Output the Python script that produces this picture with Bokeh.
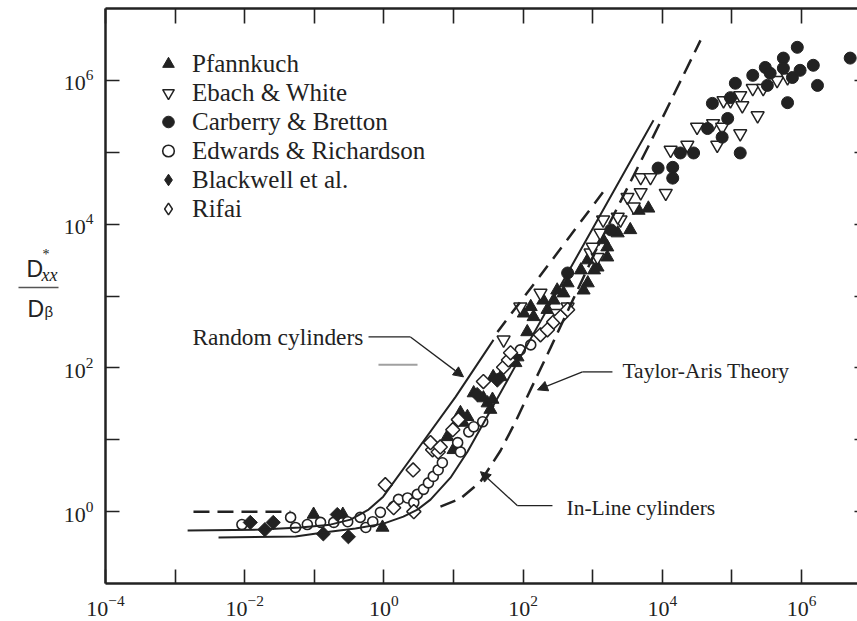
import numpy as np
from bokeh.plotting import figure
from bokeh.layouts import row
from bokeh.models import (FixedTicker, LogAxis, Legend, LegendItem, Label, Arrow,
                          NormalHead, Range1d)
from bokeh.embed import file_html
from bokeh.resources import INLINE

# ---------------- data (log10 values) ----------------
pfannkuch_log_pe = [-1.01, -0.59, -0.02, 0.91, 1.00, 1.06, 1.10, 1.14, 1.20, 1.29, 1.43, 1.49, 1.56, 1.53,
                    1.57, 1.68, 1.89, 1.92, 2.06, 2.01, 2.11, 2.15, 2.29, 2.44, 2.49, 2.64, 2.35, 2.83, 2.93,
                    2.87, 3.02, 2.58, 2.93, 3.07, 3.21, 3.21, 3.15, 3.36, 3.54, 3.66, 3.80]
pfannkuch_log_d = [-0.04, -0.04, -0.22, 1.04, 0.86, 0.90, 1.375, 1.24, 1.32, 1.65, 1.58, 1.51, 1.56, 1.42,
                   1.875, 1.875, 2.07, 2.15, 2.50, 2.76, 2.85, 2.71, 2.94, 2.94, 3.08, 3.18, 2.81, 3.36, 3.18,
                   3.08, 3.36, 3.04, 3.50, 3.40, 3.54, 3.68, 3.78, 3.875, 3.92, 4.19, 4.22]

ebach_log_pe = [1.72, 1.96, 2.25, 2.49, 2.64, 2.97, 3.07, 3.00, 3.11, 3.15, 3.40, 3.50, 3.69, 3.69, 3.83,
                4.05, 4.12, 4.36, 4.50, 4.73, 4.79, 4.86, 4.88, 4.98, 5.12, 5.15, 5.12, 5.30, 5.37, 5.45,
                5.65, 5.80, 3.59, 3.36]
ebach_log_d = [2.39, 2.85, 3.04, 2.76, 2.85, 3.60, 3.54, 3.68, 3.875, 4.06, 4.06, 4.375, 4.65, 4.44, 4.65,
               4.43, 5.03, 5.10, 5.35, 5.40, 5.10, 5.35, 5.72, 5.72, 5.79, 5.65, 5.26, 5.89, 5.51, 5.89,
               6.00, 6.04, 4.24, 4.10]

carberry_log_pe = [2.64, 3.26, 3.94, 4.15, 4.15, 4.26, 4.45, 4.65, 4.86, 4.94, 4.72, 4.98, 5.05, 5.12,
                   5.30, 5.48, 5.55, 5.51, 5.74, 5.74, 5.87, 5.94, 5.98, 6.17, 6.23, 5.80, 6.70]
carberry_log_d = [3.32, 3.92, 4.78, 4.79, 4.64, 4.99, 4.99, 5.33, 5.21, 5.47, 5.68, 5.76, 5.96, 4.99,
                  6.07, 6.18, 6.10, 5.93, 6.31, 6.17, 6.04, 6.46, 6.14, 6.21, 5.93, 5.69, 6.31]

edwards_log_pe = [-2.04, -1.34, -1.27, -1.10, -0.91, -0.72, -0.52, -0.34, -0.26, -0.16, -0.05, 0.14, 0.21,
                  0.34, 0.43, 0.48, 0.57, 0.64, 0.71, 0.78, 0.84, 1.10, 1.06, 1.22, 1.29, 1.42, 1.96, 2.11]
edwards_log_d = [-0.18, -0.08, -0.22, -0.18, -0.15, -0.15, -0.14, -0.08, -0.22, -0.14, -0.01, 0.07, 0.17,
                 0.19, 0.125, 0.24, 0.31, 0.40, 0.49, 0.58, 0.68, 0.83, 0.96, 1.11, 1.18, 1.25, 2.25, 2.32]

blackwell_log_pe = [-1.92, -1.71, -1.59, -0.87, -0.51, -0.67, 1.34, 1.63]
blackwell_log_d = [-0.15, -0.25, -0.15, -0.31, -0.35, -0.04, 1.63, 1.83]

rifai_log_pe = [0.02, 0.43, 0.42, 0.70, 0.14, 0.67, 0.78, 0.99, 1.07, 1.43, 1.72, 1.79, 1.82, 2.25, 2.35,
                2.44, 2.54, 2.64, 0.81]
rifai_log_d = [0.375, 0.0, 0.58, 0.86, 0.055, 0.96, 0.83, 1.14, 1.28, 1.81, 2.01, 2.11, 2.21, 2.46, 2.53,
               2.64, 2.71, 2.81, 0.90]

# theory curves
random_cyl_log_pe = [-2.82, -1.77, -1.20, -0.77, -0.48, -0.22, -0.01, 0.48, 1.03, 1.575]
random_cyl_log_d = [-0.264, -0.25, -0.222, -0.181, -0.111, 0.028, 0.208, 0.861, 1.597, 2.389]

inline_cyl_log_pe = [-2.376, -1.27, -0.868, -0.408, -0.006, 0.28, 0.483, 0.67, 0.957, 1.201, 1.963, 2.681, 3.874]
inline_cyl_log_d = [-0.361, -0.347, -0.292, -0.236, -0.167, -0.07, 0.028, 0.167, 0.472, 0.833, 2.153, 3.389, 5.444]

taylor_flat_log_pe = [-2.736, -1.342]
taylor_flat_log_d = [0.0, 0.0]
taylor_log_pe = [0.813, 1.101, 1.388, 1.675, 1.891, 2.106, 2.394, 2.681, 3.112, 3.83, 4.549]
taylor_log_d = [0.069, 0.181, 0.417, 0.847, 1.25, 1.694, 2.278, 2.875, 3.764, 5.139, 6.556]

upper_dash_log_pe = [1.632, 2.394, 3.213]
upper_dash_log_d = [2.5, 3.472, 4.528]

x_major = [-4, -2, 0, 2, 4, 6]
x_minor = [-3, -1, 1, 3, 5]
y_major = [0, 2, 4, 6]
y_minor = [1, 3, 5]


def p10(a):
    return list(10.0 ** np.asarray(a, dtype=float))


INK = "#222222"
SERIF = "Liberation Serif"
LEFT_W = 59
FRAME_TOP, FRAME_BOTTOM = 8, 583

# ---------------- narrow panel holding the y-axis quantity (a fraction) ----------------
# Its frame is aligned with the main plot's frame, so page pixels map 1:1 onto its ranges.
lab = figure(width=LEFT_W, height=621, x_range=Range1d(0, LEFT_W),
             y_range=Range1d(FRAME_BOTTOM, FRAME_TOP),
             output_backend="svg", toolbar_location=None, min_border=0,
             x_axis_location=None, y_axis_location=None)
lab.outline_line_color = None
lab.xgrid.visible = False
lab.ygrid.visible = False


def side_label(x, y, text, size, font=SERIF, style="normal", baseline="alphabetic"):
    lab.add_layout(Label(x=x, y=y, text=text, text_font=font, text_font_size=size,
                         text_font_style=style, text_color=INK, text_baseline=baseline,
                         text_align="left"))


side_label(26, 268, "D", "23px", font="Liberation Sans")
side_label(42, 246, "*", "14px", baseline="top")
side_label(41, 274, "xx", "18px", style="italic")
side_label(27, 308, "D", "23px", font="Liberation Sans")
side_label(44, 311, "β", "15px", font="Liberation Sans")
lab.line([18, 58], [287, 287], line_color="#555555", line_width=1.3)

# ---------------- main plot ----------------
p = figure(width=857 - LEFT_W, height=621, x_axis_type="log", y_axis_type="log",
           x_range=Range1d(1e-4, 10 ** 6.805), y_range=Range1d(1e-1, 1e7),
           output_backend="svg", toolbar_location=None,
           min_border_left=105 - LEFT_W, min_border_right=0,
           min_border_top=FRAME_TOP, min_border_bottom=621 - FRAME_BOTTOM)
p.outline_line_color = None
p.xgrid.visible = False
p.ygrid.visible = False
p.background_fill_color = "white"
p.border_fill_color = "white"

xt = FixedTicker(ticks=p10(x_major), minor_ticks=p10(x_minor))
yt = FixedTicker(ticks=p10(y_major), minor_ticks=p10(y_minor))


def style_axis(ax, labels=True, tick_len=14):
    ax.axis_line_color = INK
    ax.axis_line_width = 2.5
    ax.major_tick_in = tick_len
    ax.major_tick_out = 0
    ax.minor_tick_in = tick_len
    ax.minor_tick_out = 0
    ax.major_tick_line_color = INK
    ax.minor_tick_line_color = INK
    ax.major_tick_line_width = 1.6
    ax.minor_tick_line_width = 1.6
    ax.major_label_text_font = SERIF
    ax.major_label_text_color = INK
    if labels:
        ax.major_label_text_font_size = "22px"
    else:
        ax.major_label_text_font_size = "1px"
        ax.major_label_text_alpha = 0
        ax.major_label_standoff = 0


p.xaxis[0].ticker = xt
p.yaxis[0].ticker = yt
style_axis(p.xaxis[0])
style_axis(p.yaxis[0])
p.xaxis[0].major_label_standoff = 12
p.yaxis[0].major_label_standoff = 12

top_ax = LogAxis(ticker=FixedTicker(ticks=p10(x_major), minor_ticks=p10(x_minor)))
style_axis(top_ax, labels=False, tick_len=15)
p.add_layout(top_ax, "above")

right_ax = LogAxis(ticker=FixedTicker(ticks=p10(y_major), minor_ticks=p10(y_minor)))
style_axis(right_ax, labels=False, tick_len=3)
right_ax.axis_line_color = None
p.add_layout(right_ax, "right")

# ---------------- data markers ----------------
r_pf = p.scatter(p10(pfannkuch_log_pe), p10(pfannkuch_log_d), marker="triangle", size=13,
                 fill_color=INK, line_color=INK, line_width=1)
r_eb = p.scatter(p10(ebach_log_pe), p10(ebach_log_d), marker="inverted_triangle", size=13,
                 fill_color="white", line_color=INK, line_width=1.5)
r_cb = p.scatter(p10(carberry_log_pe), p10(carberry_log_d), marker="circle", size=12,
                 fill_color=INK, line_color=INK, line_width=1)
r_ed = p.scatter(p10(edwards_log_pe), p10(edwards_log_d), marker="circle", size=10,
                 fill_color="white", line_color=INK, line_width=1.6)
r_bw = p.scatter(p10(blackwell_log_pe), p10(blackwell_log_d), marker="square", angle=np.pi / 4,
                 size=10, fill_color=INK, line_color=INK, line_width=1)
r_rf = p.scatter(p10(rifai_log_pe), p10(rifai_log_d), marker="square", angle=np.pi / 4,
                 size=10, fill_color="white", line_color=INK, line_width=1.5)
# legend keys for the diamond series (zero-size, hidden under the first point of each series)
k_bw = p.scatter(p10(blackwell_log_pe[:1]), p10(blackwell_log_d[:1]), marker="diamond", size=0,
                 fill_color=INK, line_color=INK, line_width=1)
k_rf = p.scatter(p10(rifai_log_pe[:1]), p10(rifai_log_d[:1]), marker="diamond", size=0,
                 fill_color="white", line_color=INK, line_width=1.5)

# ---------------- theory curves ----------------
p.line(p10(random_cyl_log_pe), p10(random_cyl_log_d), line_color=INK, line_width=2)
p.line(p10(inline_cyl_log_pe), p10(inline_cyl_log_d), line_color=INK, line_width=2)
p.line(p10(taylor_flat_log_pe), p10(taylor_flat_log_d), line_color=INK, line_width=2.5, line_dash="16 8")
p.line(p10(taylor_log_pe), p10(taylor_log_d), line_color=INK, line_width=2.5, line_dash="16 8")
p.line(p10(upper_dash_log_pe), p10(upper_dash_log_d), line_color=INK, line_width=2.5, line_dash="14 9")


# ---------------- annotations ----------------
def arrow_path(pts):
    xs = [10 ** a for a, _ in pts]
    ys = [10 ** b for _, b in pts]
    p.line(xs[:-1], ys[:-1], line_color=INK, line_width=1.3)
    p.add_layout(Arrow(end=NormalHead(size=10, fill_color=INK, line_color=INK, line_width=1),
                       x_start=xs[-2], y_start=ys[-2], x_end=xs[-1], y_end=ys[-1],
                       line_color=INK, line_width=1.3))


arrow_path([(-0.221, 2.431), (0.382, 2.431), (1.144, 1.875)])
arrow_path([(3.284, 1.944), (2.853, 1.944), (2.207, 1.694)])
arrow_path([(2.422, 0.083), (1.92, 0.083), (1.388, 0.556)])

# faint grey stroke near the "Random cylinders" label
p.line([10 ** -0.078, 10 ** 0.483], [10 ** 2.042, 10 ** 2.042], line_color="#a0a0a0", line_width=2)


def label(lx, ly, text, size, font=SERIF, style="normal", baseline="alphabetic"):
    p.add_layout(Label(x=10 ** lx, y=10 ** ly, text=text, text_font=font, text_font_size=size,
                       text_font_style=style, text_color=INK, text_baseline=baseline,
                       text_align="left"))


label(-2.75, 2.43, "Random cylinders", "23.4px")
label(3.428, 1.958, "Taylor-Aris Theory", "21.5px")
label(2.624, 0.055, "In-Line cylinders", "21.5px")

# ---------------- legend ----------------
legend = Legend(items=[LegendItem(label="Pfannkuch", renderers=[r_pf]),
                       LegendItem(label="Ebach & White", renderers=[r_eb]),
                       LegendItem(label="Carberry & Bretton", renderers=[r_cb]),
                       LegendItem(label="Edwards & Richardson", renderers=[r_ed]),
                       LegendItem(label="Blackwell et al.", renderers=[k_bw]),
                       LegendItem(label="Rifai", renderers=[k_rf])],
                location="top_left", margin=41, padding=0, spacing=0,
                glyph_width=44, glyph_height=29, label_height=29, label_standoff=2,
                label_text_font=SERIF, label_text_font_size="25px", label_text_color=INK,
                background_fill_alpha=0, border_line_color=None)
p.add_layout(legend)

layout = row(lab, p, spacing=0)
open("out.html", "w").write(file_html(layout, INLINE))
